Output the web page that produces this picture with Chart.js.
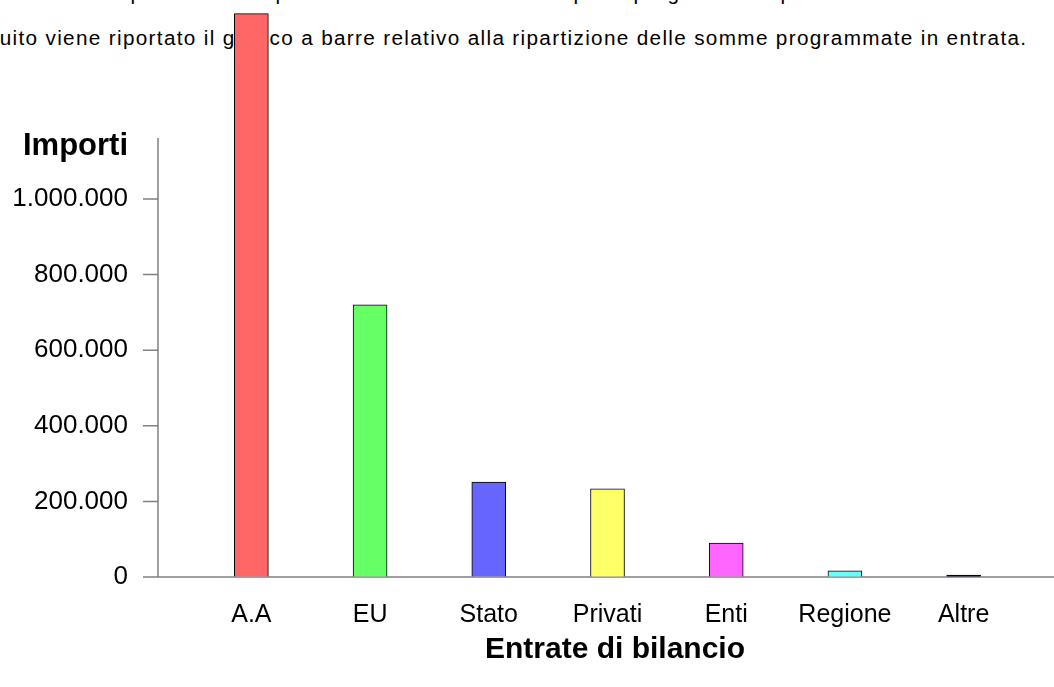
<!DOCTYPE html>
<html>
<head>
<meta charset="utf-8">
<script src="https://cdn.jsdelivr.net/npm/chart.js@4/dist/chart.umd.min.js"></script>
<style>
  html, body { margin: 0; padding: 0; background: #fff; overflow: hidden; width: 1054px; height: 687px; }
  .txt { position: absolute; white-space: nowrap; font-family: "Liberation Sans", Arial, sans-serif; font-size: 20px; line-height: 20px; color: #000; z-index: 1; }
  #wrap { position: absolute; left: 0; top: 0; width: 1054px; height: 687px; z-index: 2; }
</style>
</head>
<body>
<div id="intro1"></div>
<div class="txt" id="line2"><span id="pre2">Di seg</span>uito viene riportato il grafico a barre relativo alla ripartizione delle somme programmate in entrata.</div>
<div id="wrap"><canvas id="c" width="1054" height="687"></canvas></div>
<script>
// ---- data ----
const categories = ['A.A', 'EU', 'Stato', 'Privati', 'Enti', 'Regione', 'Altre'];
const values = [1490000, 720000, 251000, 233000, 90000, 16000, 5000];
const barColors = ['#FF6666', '#66FF66', '#6666FF', '#FFFF66', '#FF66FF', '#66FFFF', '#000033'];
const yTickValues = [0, 200000, 400000, 600000, 800000, 1000000];
const yAxisTitle = 'Importi';
const xAxisTitle = 'Entrate di bilancio';

const FONT = '"Liberation Sans", Arial, sans-serif';

// ---- intro text (only partly visible at the top of the page) ----
(function () {
  const mc = document.createElement('canvas').getContext('2d');
  mc.font = '100px ' + FONT;
  const partA = 'uito viene riportato il grafi';
  const full = 'uito viene riportato il grafico a barre relativo alla ripartizione delle somme programmate in entrata.';
  const a = mc.measureText(partA).width / 100, b = mc.measureText(full).width / 100;
  const n1 = partA.length, N = full.length;
  let f = (270 * N - 1028 * n1) / (a * N - b * n1);
  if (!(f > 14 && f < 28)) f = 20;
  let ls = (270 - a * f) / n1;
  if (!(ls > -1 && ls < 5)) ls = 0;
  const asc = 0.905 * f, half = (20 - 1.117 * f) / 2;

  const l2 = document.getElementById('line2');
  l2.style.fontSize = f + 'px';
  l2.style.letterSpacing = ls + 'px';
  l2.style.top = (45 - asc - half) + 'px';
  l2.style.left = (-document.getElementById('pre2').offsetWidth) + 'px';

  // first line: cut off at the top, only descenders show
  mc.font = f + 'px ' + FONT;
  const w = s => mc.measureText(s).width + s.length * ls;
  const segs = [
    { text: 'Nella tabella sono elencate per le voci', ch: 'p', x: 137 },
    { text: 'di entrata e le somme iscritte per le fonti', ch: 'p', x: 282 },
    { text: 'di bilancio per le', ch: 'p', x: 580 },
    { text: 'programmate', ch: 'p', x: 640 },
    { text: 'nel triennio e per le', ch: 'p', x: 787 }
  ];
  const host = document.getElementById('intro1');
  segs.forEach(s => {
    const i = s.text.indexOf(s.ch);
    const left = s.x - w(s.text.slice(0, i)) - w(s.ch) / 2;
    const sp = document.createElement('div');
    sp.className = 'txt';
    sp.textContent = s.text;
    sp.style.fontSize = f + 'px';
    sp.style.letterSpacing = ls + 'px';
    sp.style.left = left + 'px';
    sp.style.top = (0 - asc - half) + 'px';
    host.appendChild(sp);
  });
})();

function fmt(v) { return String(Math.round(v)).replace(/\B(?=(\d{3})+(?!\d))/g, '.'); }

const axisPlugin = {
  id: 'customAxes',
  beforeDatasetsDraw(chart) {
    const ctx = chart.ctx, ca = chart.chartArea, y = chart.scales.y;
    const ax = ca.left - 34;
    ctx.save();
    ctx.strokeStyle = '#808080';
    ctx.lineWidth = 1.5;
    ctx.beginPath();
    ctx.moveTo(ax, ca.top);
    ctx.lineTo(ax, ca.bottom);
    ctx.moveTo(ax - 15, y.getPixelForValue(0));
    ctx.lineTo(chart.width, y.getPixelForValue(0));
    yTickValues.forEach(v => {
      const py = y.getPixelForValue(v);
      ctx.moveTo(ax - 15, py);
      ctx.lineTo(ax, py);
    });
    ctx.stroke();
    ctx.restore();
  },
  afterDraw(chart) {
    const ctx = chart.ctx;
    ctx.save();
    ctx.fillStyle = '#000';
    ctx.font = 'bold 31px ' + FONT;
    ctx.textAlign = 'right';
    ctx.textBaseline = 'alphabetic';
    ctx.fillText(yAxisTitle, 128, 155);
    ctx.font = 'bold 30px ' + FONT;
    ctx.textAlign = 'center';
    ctx.fillText(xAxisTitle, 615, 658);
    ctx.restore();
  }
};

new Chart(document.getElementById('c'), {
  type: 'bar',
  data: {
    labels: categories,
    datasets: [{
      data: values,
      backgroundColor: barColors,
      borderColor: '#000',
      borderWidth: 1,
      barThickness: 34,
      clip: false
    }]
  },
  options: {
    responsive: false,
    animation: false,
    layout: { padding: { top: 138, right: 31, left: 0, bottom: 0 } },
    plugins: { legend: { display: false }, tooltip: { enabled: false } },
    scales: {
      x: {
        grid: { display: false, drawTicks: false },
        border: { display: false },
        ticks: { color: '#000', font: { family: FONT, size: 25 }, padding: 23, maxRotation: 0, autoSkip: false },
        afterFit(s) { s.height = 110; }
      },
      y: {
        min: 0,
        max: 1161000,
        grid: { display: true, drawOnChartArea: false, drawTicks: false },
        border: { display: false },
        ticks: { stepSize: 200000, color: '#000', font: { family: FONT, size: 26 }, padding: 64, callback: v => fmt(v) },
        afterBuildTicks(s) { s.ticks = yTickValues.map(v => ({ value: v })); },
        afterFit(s) { s.width = 192; }
      }
    }
  },
  plugins: [axisPlugin]
});
</script>
</body>
</html>
